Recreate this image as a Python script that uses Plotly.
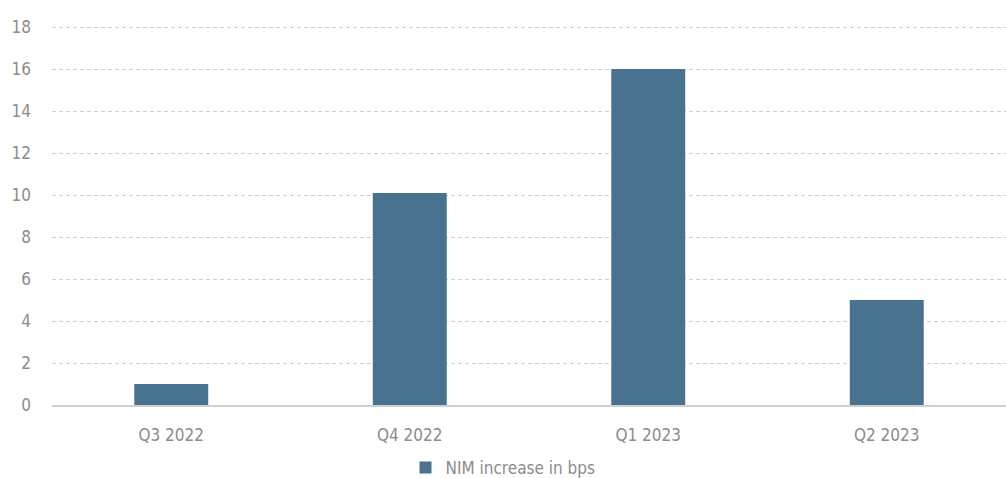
import plotly.graph_objects as go

categories = ["Q3 2022", "Q4 2022", "Q1 2023", "Q2 2023"]
nim_increase = [1.0, 10.1, 16.0, 5.0]
series_name = "NIM increase in bps"
y_ticks = [0, 2, 4, 6, 8, 10, 12, 14, 16, 18]

FONT = "DejaVu Sans Condensed, Roboto, sans-serif"

fig = go.Figure()
fig.add_trace(go.Bar(
    x=categories, y=nim_increase, name=series_name,
    marker=dict(color="#48728f", line=dict(width=0)),
))

fig.update_layout(
    width=1006, height=478,
    margin=dict(l=52, r=0, t=26, b=73),
    plot_bgcolor="white", paper_bgcolor="white",
    bargap=0.69,
    font=dict(family=FONT, color="#8c8c8c", size=17),
    showlegend=True,
    legend=dict(orientation="h", x=0.5, xanchor="center", xref="container",
                y=10 / 478, yanchor="middle", yref="container",
                font=dict(size=17, color="#8c8c8c")),
    xaxis=dict(showgrid=False, showline=True, linecolor="#d0d0d0", linewidth=2,
               ticks="", tickfont=dict(size=17), ticklabelstandoff=14, automargin=False),
    yaxis=dict(range=[0, 18.05], tickvals=y_ticks, showgrid=True, gridcolor="#cfcfcf",
               griddash="4px,3px", gridwidth=1, zeroline=False, showline=False,
               ticks="", tickfont=dict(size=17), ticklabelstandoff=20, automargin=False),
)

fig.write_html("out.html", config={"displayModeBar": False},
               post_script="document.body.style.margin='0';document.body.style.padding='0';")
